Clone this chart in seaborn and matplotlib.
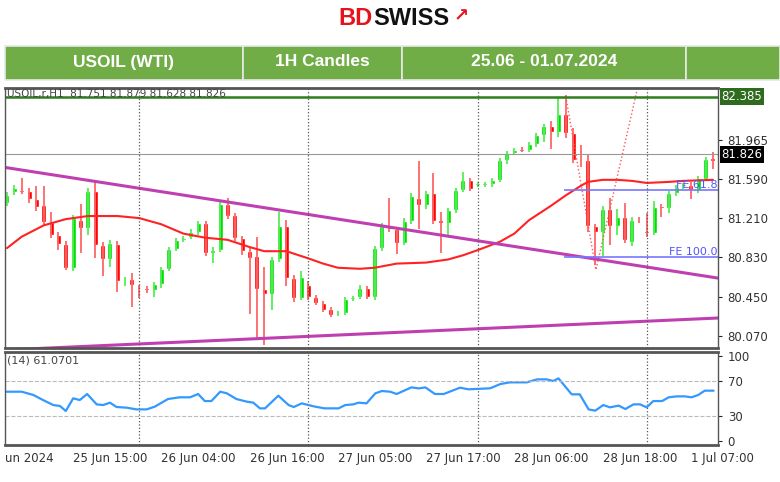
import matplotlib
matplotlib.use('Agg')
import matplotlib.pyplot as plt
from matplotlib.patches import Rectangle
import numpy as np
import pandas as pd
import seaborn as sns

# hourly candles
opens = [81.36, 81.46, 81.48, 81.47, 81.39, 81.34, 81.17, 81.05, 80.96, 80.73,
         81.19, 81.11, 81.47, 80.95, 80.81, 80.96, 80.61, 80.62, 80.53, 80.53,
         80.51, 80.57, 80.72, 80.91, 81.00, 81.03, 81.08, 81.16, 80.87, 80.90,
         81.35, 81.24, 81.02, 80.89, 80.84, 80.52, 80.48, 80.81, 81.13, 80.63,
         80.44, 80.56, 80.45, 80.39, 80.33, 80.28, 80.29, 80.43, 80.45, 80.53,
         80.45, 80.92, 81.13, 81.10, 80.97, 81.18, 81.40, 81.34, 81.45, 81.19,
         81.16, 81.29, 81.48, 81.58, 81.53, 81.53, 81.54, 81.58, 81.77, 81.84,
         81.88, 81.87, 81.93, 82.01, 82.10, 82.04, 82.22, 82.03, 81.78, 81.77,
         81.13, 81.08, 81.30, 81.13, 81.22, 80.98, 81.19, 81.08, 81.07, 81.32,
         81.31, 81.45, 81.52, 81.53, 81.48, 81.59, 81.79]
closes = [81.43, 81.50, 81.46, 81.39, 81.32, 81.17, 81.05, 80.96, 80.73, 81.21,
          81.11, 81.47, 80.95, 80.81, 80.97, 80.60, 80.62, 80.56, 80.52, 80.51,
          80.57, 80.72, 80.91, 81.00, 81.02, 81.08, 81.16, 80.87, 80.90, 81.35,
          81.23, 81.02, 80.89, 80.82, 80.52, 80.48, 80.81, 81.13, 80.63, 80.44,
          80.64, 80.45, 80.39, 80.32, 80.27, 80.29, 80.43, 80.44, 80.53, 80.45,
          80.92, 81.13, 81.10, 80.97, 81.18, 81.42, 81.34, 81.45, 81.18, 81.16,
          81.29, 81.48, 81.58, 81.49, 81.54, 81.54, 81.58, 81.77, 81.84, 81.87,
          81.86, 81.93, 82.01, 82.10, 82.04, 82.22, 82.03, 81.77, 81.77, 81.13,
          81.08, 81.30, 81.13, 81.22, 81.00, 81.19, 81.18, 81.07, 81.32, 81.31,
          81.45, 81.51, 81.53, 81.48, 81.60, 81.78, 81.76]
highs = [81.46, 81.53, 81.60, 81.50, 81.52, 81.52, 81.27, 81.08, 80.99, 81.24,
         81.35, 81.50, 81.58, 80.98, 81.00, 80.99, 80.64, 80.68, 80.56, 80.55,
         80.59, 80.74, 80.93, 81.02, 81.04, 81.10, 81.18, 81.18, 80.93, 81.38,
         81.40, 81.26, 81.04, 80.92, 81.03, 80.74, 80.83, 81.27, 81.19, 80.66,
         80.70, 80.60, 80.47, 80.41, 80.35, 80.31, 80.45, 80.46, 80.56, 80.55,
         80.94, 81.16, 81.40, 81.12, 81.21, 81.45, 81.76, 81.47, 81.65, 81.27,
         81.31, 81.50, 81.66, 81.60, 81.56, 81.56, 81.60, 81.79, 81.86, 81.89,
         81.90, 81.95, 82.03, 82.12, 82.15, 82.38, 82.40, 82.08, 81.92, 81.83,
         81.15, 81.33, 81.40, 81.30, 81.36, 81.22, 81.22, 81.26, 81.38, 81.35,
         81.47, 81.53, 81.55, 81.56, 81.62, 81.80, 81.85]
lows = [81.33, 81.43, 81.44, 81.36, 81.28, 81.14, 81.02, 80.90, 80.71, 80.70,
        80.87, 81.05, 80.82, 80.65, 80.74, 80.50, 80.55, 80.35, 80.44, 80.49,
        80.45, 80.53, 80.70, 80.89, 80.98, 81.01, 81.05, 80.84, 80.78, 80.88,
        81.20, 80.99, 80.85, 80.28, 80.05, 79.98, 80.32, 80.79, 80.55, 80.40,
        80.42, 80.42, 80.37, 80.30, 80.25, 80.26, 80.27, 80.41, 80.43, 80.43,
        80.42, 80.89, 81.08, 80.86, 80.95, 81.15, 81.10, 81.30, 81.15, 80.87,
        81.03, 81.26, 81.46, 81.47, 81.51, 81.51, 81.51, 81.56, 81.73, 81.82,
        81.85, 81.85, 81.90, 81.95, 81.88, 81.99, 81.98, 81.74, 81.70, 81.08,
        80.76, 80.84, 80.95, 81.05, 80.97, 80.94, 81.16, 81.03, 81.05, 81.22,
        81.26, 81.42, 81.49, 81.39, 81.45, 81.57, 81.68]

# moving average, read at a few candles
ma_idx = [1, 3, 6, 9, 12, 16, 19, 22, 25, 28, 31, 34, 36, 39, 42, 44, 46, 49, 51, 54,
          58, 61, 63, 65, 68, 70, 72, 75, 77, 79, 80, 82, 84, 86, 88, 91, 93, 97]
ma_val = [80.92, 81.03, 81.14, 81.20, 81.23, 81.23, 81.21, 81.15, 81.06, 81.02, 81.00, 80.93,
          80.89, 80.89, 80.82, 80.77, 80.73, 80.72, 80.73, 80.77, 80.78, 80.81, 80.85,
          80.90, 80.98, 81.06, 81.19, 81.33, 81.43, 81.52, 81.56, 81.58, 81.58, 81.57,
          81.55, 81.56, 81.57, 81.58]

# RSI(14), read at a few candles
rsi_idx = [0.9, 3, 4.6, 5.9, 7.3, 8.2, 9, 10, 10.9, 11.9, 13.2, 14.1, 15, 15.9, 17.3, 18.6, 20,
           21.1, 22.9, 24.5, 25.9, 27, 27.9, 28.8, 30, 30.9, 32.2, 33.6, 34.5, 35.4, 36.1, 37.9,
           39.3, 40, 41.1, 42, 42.9, 44.2, 46.1, 47, 48.1, 48.8, 49.9, 51.1, 52, 53.1, 54, 56,
           57, 57.9, 59.2, 60.4, 62.6, 63.8, 66.7, 68.1, 69.4, 71.7, 73.1, 74.4, 75.3, 76, 77.8,
           78.9, 80.1, 81, 82.1, 83, 84.2, 85.1, 86.2, 87.1, 88, 88.9, 90.1, 91, 92.1, 93.2,
           94.1, 95, 95.9, 97.1]
rsi_val = [58, 58, 54.1, 48.2, 42.3, 41.2, 35.3, 50.2, 48.2, 55.3, 43.1, 42.3, 45.1, 40, 39.2,
           37.2, 37.2, 40.4, 49.4, 51.4, 51.4, 55.3, 47, 47, 58, 56.1, 49.4, 46.3, 45.1, 38.4,
           38.4, 53.3, 42.3, 40, 44.3, 42.3, 40.4, 38.4, 38.4, 42.3, 43.1, 45.1, 44.3, 56.1,
           58.8, 58, 55.3, 63.1, 61.9, 63.1, 55.3, 55.3, 62.7, 60.8, 62, 67, 69, 69, 72.5,
           72.5, 70.6, 73.7, 54.9, 54.9, 37.2, 35.7, 42.3, 39.6, 41.6, 37.6, 43.1, 43.1, 39.6,
           47, 47, 51.4, 52.5, 52.5, 51.4, 54.1, 59.2, 59.2]

upper_trend = [81.70, 80.63]
lower_trend = [79.935, 80.244]
fibo_x = [77.0, 81.1, 86.7]
fibo_y = [82.385, 80.71, 82.45]

price_ticks = [81.965, 81.590, 81.210, 80.830, 80.450, 80.070]
resistance = 82.385
last_price = 81.826
fe618 = 81.48
fe100 = 80.83

day_lines = [19, 42, 65, 88]
time_ticks = [10, 22, 34, 46, 58, 70, 82, 94]
time_labels = ['25 Jun 15:00', '26 Jun 04:00', '26 Jun 16:00', '27 Jun 05:00',
               '27 Jun 17:00', '28 Jun 06:00', '28 Jun 18:00', '1 Jul 07:00']
header = ['USOIL (WTI)', '1H Candles', '25.06 - 01.07.2024']

sns.set_style('white')
plt.rcParams['font.family'] = ['DejaVu Sans']

W, H = 780, 482
fig = plt.figure(figsize=(W / 100, H / 100), dpi=100)

# logo and green header
fig.text(0.478, 0.962, 'BD', color='#e3141c', fontsize=17, fontweight='bold',
         ha='right', va='center', family='Liberation Sans')
fig.text(0.478, 0.962, 'SWISS', color='#111111', fontsize=17, fontweight='bold',
         ha='left', va='center', family='Liberation Sans')
fig.text(0.582, 0.966, '\u2197', color='#e3141c', fontsize=13, fontweight='bold',
         ha='left', va='center')
cells = [(5, 243), (243, 402), (402, 686), (686, 780)]
for i, (x0, x1) in enumerate(cells):
    fig.patches.append(Rectangle((x0 / W, 1 - 80 / H), (x1 - x0) / W, 34 / H,
                                 transform=fig.transFigure, facecolor='#70ad47',
                                 edgecolor='#e8e8e8', lw=1.2))
    if i < 3:
        fig.text((x0 + x1) / 2 / W, 1 - 62 / H, header[i], color='white', fontsize=12.5,
                 fontweight='bold', ha='center', va='center', family='Liberation Sans')

ax = fig.add_axes([5 / W, 1 - 348 / H, 713 / W, 260 / H])
ax2 = fig.add_axes([5 / W, 1 - 445 / H, 713 / W, 93 / H], sharex=ax)

n = len(opens)
idx = np.arange(1, n + 1)
df = pd.DataFrame({'idx': idx, 'open': opens, 'close': closes, 'high': highs, 'low': lows})
up = df['close'] >= df['open']

ax.vlines(df['idx'][up], df['low'][up], df['high'][up], color='#55ee55', lw=1.3)
ax.vlines(df['idx'][~up], df['low'][~up], df['high'][~up], color='#ff6666', lw=1.3)
body = (df['close'] - df['open']).abs().clip(lower=0.015)
bottom = df[['open', 'close']].min(axis=1)
ax.bar(df['idx'][up], body[up], bottom=bottom[up], width=0.68, color='#00dd00')
ax.bar(df['idx'][~up], body[~up], bottom=bottom[~up], width=0.68, color='#ff0000')

sns.lineplot(x=ma_idx, y=ma_val, ax=ax, color='#ff2222', lw=1.5)

xl = (0.73, 97.7)
ax.plot(xl, upper_trend, color='#c03fb0', lw=2.2)
ax.plot(xl, lower_trend, color='#c03fb0', lw=2.2)
ax.plot(fibo_x, fibo_y, color='#ff5555', lw=1, ls=':')
ax.axhline(resistance, color='#2e7d1e', lw=1.8)
ax.axhline(last_price, color='#999999', lw=0.8)
ax.hlines([fe618, fe100], 76.8, 98, color='#7777ff', lw=1.2)
ax.text(97.6, fe618, 'FE 61.8', color='#5555ff', fontsize=8, ha='right', va='bottom')
ax.text(97.6, fe100, 'FE 100.0', color='#5555ff', fontsize=8, ha='right', va='bottom')
ax.text(1, 82.46, 'USOIL,r,H1  81.751 81.879 81.628 81.826', color='#444444',
        fontsize=7.5, va='top')

for d in day_lines:
    ax.axvline(d, color='#555555', lw=0.9, ls=':')
    ax2.axvline(d, color='#555555', lw=0.9, ls=':')

ax.set_xlim(xl)
ax.set_ylim(79.954, 82.468)
ax.yaxis.tick_right()
ax.set_yticks(price_ticks)
ax.set_yticklabels([f'{v:.3f}' for v in price_ticks], fontsize=8.5, color='#333333')
ax.tick_params(axis='y', length=3, pad=4)
ax.tick_params(axis='x', bottom=False, labelbottom=False)
for lbl, val, fc in [('82.385', resistance, '#2e6b1e'), ('81.826', last_price, '#000000')]:
    ax.text(1.005, val, lbl, transform=ax.get_yaxis_transform(), fontsize=8.5, color='white',
            va='center', ha='left', bbox=dict(boxstyle='square,pad=0.15', fc=fc, ec='none'))

sns.lineplot(x=rsi_idx, y=rsi_val, ax=ax2, color='#3399ff', lw=1.6)
ax2.axhline(70, color='#bbbbbb', lw=0.8, ls='--')
ax2.axhline(30, color='#bbbbbb', lw=0.8, ls='--')
ax2.set_ylim(-4.7, 104.7)
ax2.yaxis.tick_right()
ax2.set_yticks([100, 70, 30, 0])
ax2.set_yticklabels(['100', '70', '30', '0'], fontsize=8.5, color='#333333')
ax2.set_xticks(time_ticks)
ax2.set_xticklabels(time_labels, fontsize=8.5, color='#333333', ha='left')
ax2.tick_params(axis='x', length=3, pad=2)
ax2.tick_params(axis='y', length=3, pad=4)
ax2.text(1, 100, '(14) 61.0701', fontsize=8, color='#444444', va='top')
fig.text(5 / W, 1 - 452 / H, 'un 2024', fontsize=8.5, color='#333333', va='top')

for a in (ax, ax2):
    for s in a.spines.values():
        s.set_color('#555555')
        s.set_linewidth(1)
    a.spines['top'].set_linewidth(2)
    a.spines['bottom'].set_linewidth(2)
    a.set_xlabel('')
    a.set_ylabel('')

fig.savefig('out.png', dpi=100)
